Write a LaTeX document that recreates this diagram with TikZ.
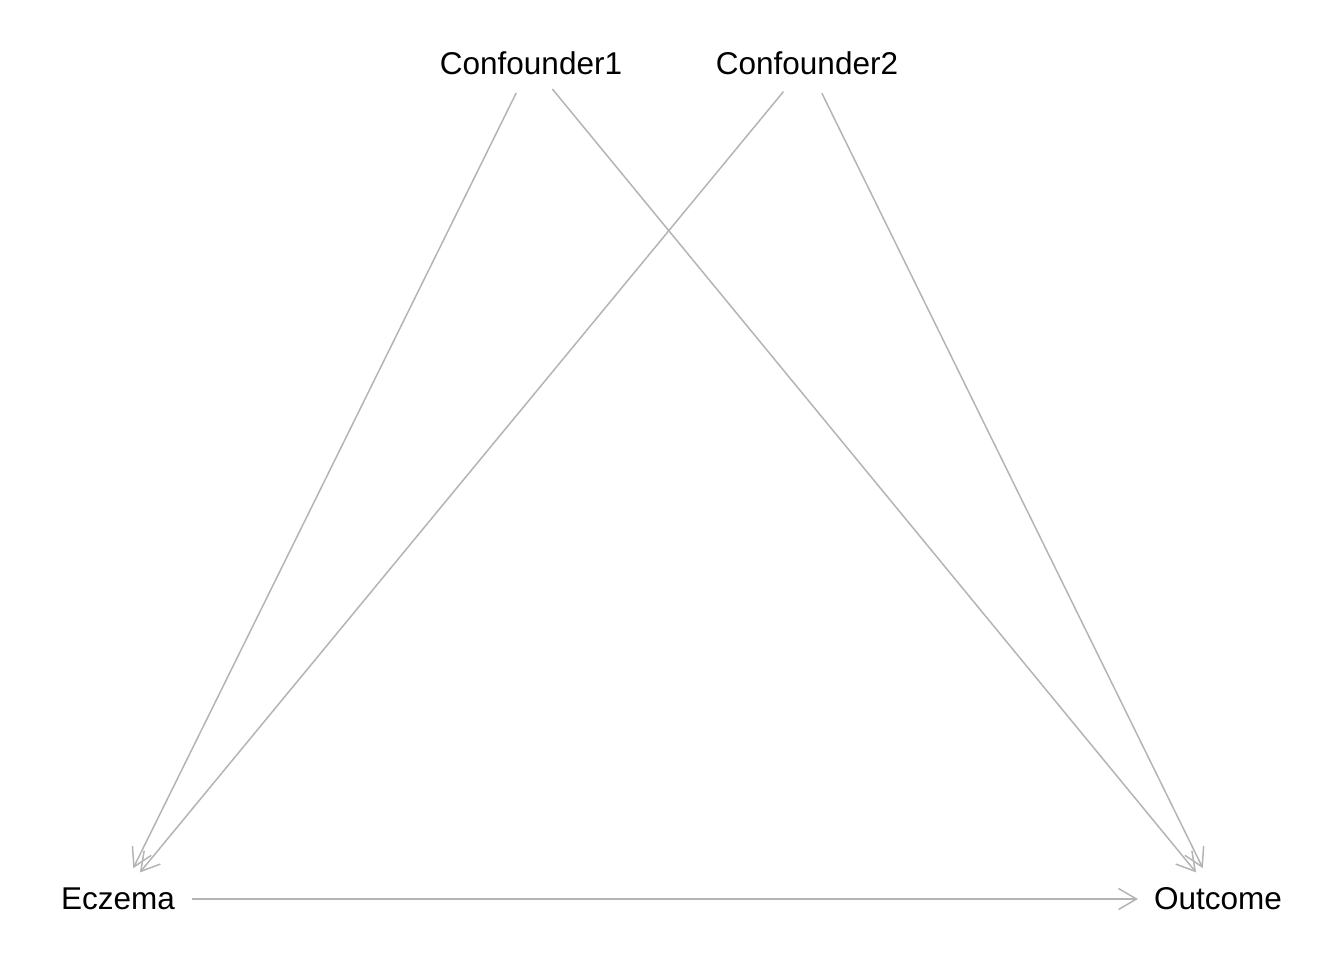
\documentclass[tikz,border=0pt]{standalone}
\usepackage{fontspec}
\setmainfont{Liberation Sans}
\usetikzlibrary{arrows.meta}
\begin{document}
\begin{tikzpicture}[x=0.5pt,y=-0.5pt,
  lbl/.style={inner sep=0pt,font=\fontsize{15.75}{18}\selectfont,text=black},
  edge/.style={draw={rgb,255:red,180;green,180;blue,180},line width=0.75pt,
    -{Straight Barb[length=9pt,width=10.5pt,line width=0.75pt]}}]
\useasboundingbox (0,0) rectangle (1344,960);
\coordinate (c1) at (531,63);
\coordinate (c2) at (807,63);
\coordinate (ec) at (118,899);
\coordinate (ou) at (1218,899);
\node[lbl] (c1l) at (531,63) {Confounder1};
\node[lbl] (c2l) at (807,63) {Confounder2};
\node[lbl] (ecl) at (118,899) {Eczema};
\node[lbl] (oul) at (1218,899) {Outcome};
\draw[edge,shorten <=16.8pt,shorten >=17.2pt] (c1) -- (ec);
\draw[edge,shorten <=16.8pt,shorten >=17.2pt] (c1) -- (ou);
\draw[edge,shorten <=18.5pt,shorten >=17.2pt] (c2) -- (ec);
\draw[edge,shorten <=16.8pt,shorten >=17.2pt] (c2) -- (ou);
\draw[edge,shorten <=37pt,shorten >=40pt] (ec) -- (ou);
\end{tikzpicture}
\end{document}
